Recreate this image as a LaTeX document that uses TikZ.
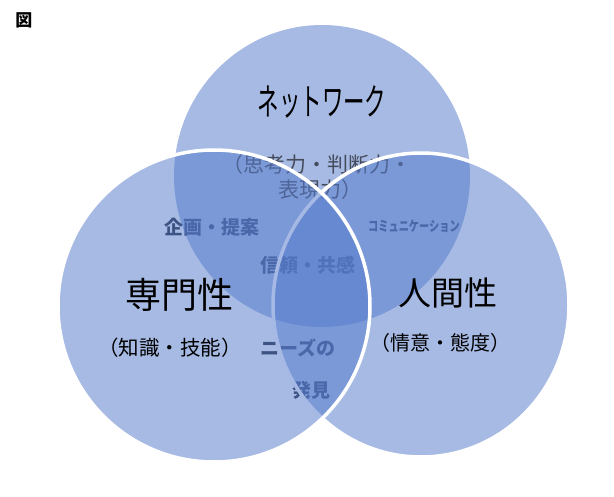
\documentclass[tikz,border=0pt]{standalone}
\usepackage{fontspec}
\newfontfamily\jp{Noto Sans CJK JP}
\usetikzlibrary{shapes.geometric}
\definecolor{vennblue}{RGB}{86,124,204}
\definecolor{ovlink}{RGB}{34,38,50}
\definecolor{subink}{RGB}{70,75,92}
\begin{document}
\begin{tikzpicture}[x=1pt,y=-1pt,
  venn/.style={ellipse, inner sep=0pt, fill=vennblue, fill opacity=0.53},
  rim/.style={draw=white, line width=3.5pt, draw opacity=1},
  ovl/.style={inner sep=0pt, text=ovlink, font=\jp\bfseries\fontsize{19}{19}\selectfont},
  sublbl/.style={inner sep=0pt, text=subink, font=\jp\fontsize{21}{21}\selectfont},
  mainlbl/.style={inner sep=0pt, text=black, font=\jp\fontsize{36}{36}\selectfont},
  paren/.style={inner sep=0pt, text=black, font=\jp\fontsize{20.5}{20.5}\selectfont}]
\useasboundingbox (0,0) rectangle (614,497);
% overlap labels (under the translucent discs)
\node[ovl] (kikaku) at (212,227) {企画・提案};
\node[ovl, font=\jp\bfseries\fontsize{14}{14}\selectfont] (comm) at (414,226) {\scalebox{0.73}[1]{コミュニケーション}};
\node[ovl] (shinrai) at (308,265) {信頼・共感};
\node[ovl] (needs) at (298,348) {ニーズの};
\node[ovl] (hakken) at (311,390) {発見};
% top disc
\node[venn, minimum width=296pt, minimum height=302pt] (net) at (322,176) {};
\node[sublbl] (shiko1) at (317,165) {（思考力・判断力・};
\node[sublbl] (shiko2) at (320,190) {表現力）};
% right disc
\node[venn, rim, minimum width=296pt, minimum height=304pt] (hum) at (421,305) {};
% left disc
\node[venn, rim, minimum width=312pt, minimum height=312pt] (pro) at (214,306) {};
% main labels
\node[inner sep=0pt, font=\jp\bfseries\fontsize{17}{17}\selectfont] (fig) at (24,20) {図};
\node[mainlbl, font=\jp\fontsize{37}{37}\selectfont] (netlbl) at (322,102) {\scalebox{0.58}[1]{ネットワーク}};
\node[mainlbl] (prolbl) at (179,295) {専門性};
\node[paren] (prosub) at (170,348) {（知識・技能）};
\node[mainlbl, font=\jp\fontsize{33}{33}\selectfont] (humlbl) at (448,293) {人間性};
\node[paren, font=\jp\fontsize{20}{20}\selectfont] (humsub) at (440,343) {（情意・態度）};
\end{tikzpicture}
\end{document}
